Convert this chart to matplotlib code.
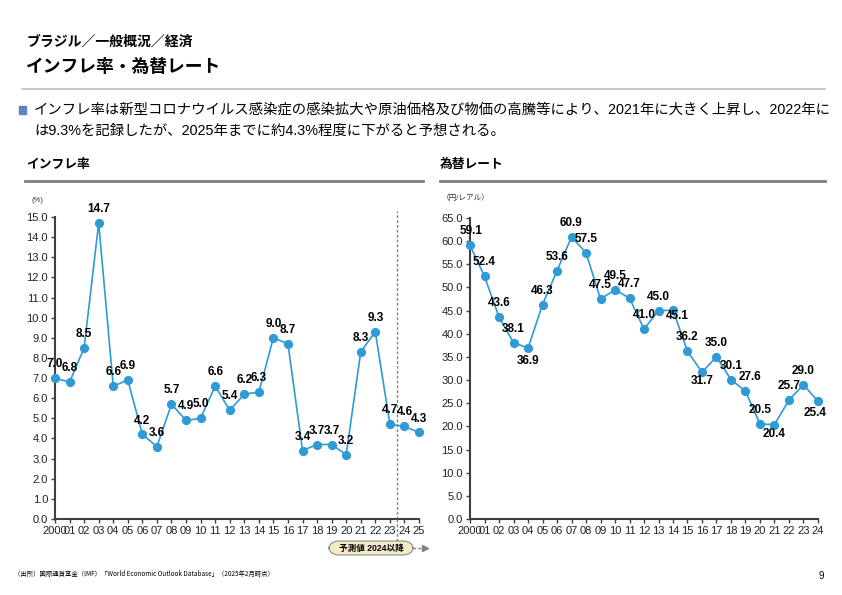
import matplotlib.pyplot as plt
from matplotlib.lines import Line2D
from matplotlib.patches import FancyBboxPatch, Rectangle

plt.rcParams['font.family'] = ['Liberation Sans', 'Noto Sans CJK JP']

# データ
inf_labels = ['2000', '01', '02', '03', '04', '05', '06', '07', '08', '09', '10', '11', '12',
              '13', '14', '15', '16', '17', '18', '19', '20', '21', '22', '23', '24', '25']
inflation = [7.0, 6.8, 8.5, 14.7, 6.6, 6.9, 4.2, 3.6, 5.7, 4.9, 5.0, 6.6, 5.4,
             6.2, 6.3, 9.0, 8.7, 3.4, 3.7, 3.7, 3.2, 8.3, 9.3, 4.7, 4.6, 4.3]

fx_labels = inf_labels[:25]
fx_rate = [59.1, 52.4, 43.6, 38.1, 36.9, 46.3, 53.6, 60.9, 57.5, 47.5, 49.5, 47.7, 41.0,
           45.0, 45.1, 36.2, 31.7, 35.0, 30.1, 27.6, 20.5, 20.4, 25.7, 29.0, 25.4]

# ラベル位置（ポイント単位のずれ、中心基準）
fx_offsets = {0: (1, 10), 4: (0, -9.5), 14: (3, -4), 16: (0, -6.5), 19: (3, 10),
              21: (0, -7), 24: (-2, -8.5)}

W, H = 842, 595
blue = '#2E9BD6'


def fx(x):
    return x / W


def fy(y):
    return 1 - y / H


fig = plt.figure(figsize=(8.42, 5.95), dpi=100)

# ヘッダー
fig.text(fx(27), fy(42), 'ブラジル／一般概況／経済', fontsize=10, weight='bold', va='center')
fig.text(fx(26), fy(67), 'インフレ率・為替レート', fontsize=12.8, weight='bold', va='center')
fig.add_artist(Line2D([fx(22), fx(825)], [fy(89), fy(89)], color='#BFBFBF', lw=1.2))

fig.add_artist(Rectangle((fx(19), fy(114)), 7 / W, 8 / H, color='#5B86C5'))
fig.text(fx(34), fy(110), 'インフレ率は新型コロナウイルス感染症の感染拡大や原油価格及び物価の高騰等により、2021年に大きく上昇し、2022年に',
         fontsize=10.35, va='center')
fig.text(fx(34), fy(131), 'は9.3%を記録したが、2025年までに約4.3%程度に下がると予想される。',
         fontsize=10.35, va='center')

# サブタイトル
fig.text(fx(26), fy(165), 'インフレ率', fontsize=9.2, weight='bold', va='center')
fig.add_artist(Line2D([fx(25), fx(423)], [fy(181), fy(181)], color='#7F7F7F', lw=2))
fig.text(fx(440), fy(165), '為替レート', fontsize=9.2, weight='bold', va='center')
fig.add_artist(Line2D([fx(440), fx(825)], [fy(181), fy(181)], color='#7F7F7F', lw=2))

fig.text(fx(32), fy(200), '(%)', fontsize=5.5, va='center', color='#333333')
fig.text(fx(442), fy(198), '（円/レアル）', fontsize=5.5, va='center', color='#333333')


def style_axis(ax, labels, ymax, step):
    for s in ['top', 'right']:
        ax.spines[s].set_visible(False)
    for s in ['left', 'bottom']:
        ax.spines[s].set_color('#404040')
        ax.spines[s].set_linewidth(1.5)
    ax.set_xlim(0, len(labels) - 1)
    ax.set_ylim(0, ymax)
    ax.set_xticks(range(len(labels)))
    ax.set_xticklabels(labels)
    yt = [i * step for i in range(int(ymax / step) + 1)]
    ax.set_yticks(yt)
    ax.set_yticklabels(['%.1f' % v for v in yt])
    ax.tick_params(direction='out', length=3, width=1, color='#404040', labelsize=8,
                   labelcolor='#222222', pad=2)


# インフレ率
ax1 = fig.add_axes([fx(55), fy(519), (419 - 55) / W, (519 - 217) / H])
x1 = list(range(len(inflation)))
ax1.plot(x1, inflation, color=blue, lw=1.2, marker='o', ms=5.6, clip_on=False, zorder=3)
style_axis(ax1, inf_labels, 15, 1)
for i, v in enumerate(inflation):
    ax1.annotate('%.1f' % v, (i, v), xytext=(0, 10), textcoords='offset points',
                 ha='center', va='center', fontsize=8.5, weight='bold')
ax1.axvline(23.5, ymin=0, ymax=1.02, color='#808080', ls=(0, (2, 1.5)), lw=1, clip_on=False)
fig.add_artist(Line2D([fx(397), fx(397)], [fy(519), fy(541)], color='#808080',
                      ls=(0, (2, 1.5)), lw=1))

# 予測値ラベル
box = FancyBboxPatch((fx(329), fy(555)), 84 / W, 14 / H,
                     boxstyle='round,pad=0,rounding_size=0.013', fc='#F5EBCB', ec='#8C8C8C', lw=0.8)
fig.add_artist(box)
fig.text(fx(371), fy(548), '予測値 2024以降', fontsize=6.2, ha='center', va='center', weight='bold')
fig.add_artist(Line2D([fx(413), fx(423)], [fy(548), fy(548)], color='#808080', ls=(0, (2, 1.5)), lw=1))
fig.add_artist(Line2D([fx(425)], [fy(548)], color='#808080', marker='>', ms=5, lw=0))

# 為替レート
ax2 = fig.add_axes([fx(470), fy(519), (818 - 470) / W, (519 - 218) / H])
x2 = list(range(len(fx_rate)))
ax2.plot(x2, fx_rate, color=blue, lw=1.2, marker='o', ms=5.6, clip_on=False, zorder=3)
style_axis(ax2, fx_labels, 65, 5)
for i, v in enumerate(fx_rate):
    dx, dy = fx_offsets.get(i, (0, 10))
    ax2.annotate('%.1f' % v, (i, v), xytext=(dx, dy), textcoords='offset points',
                 ha='center', va='center', fontsize=8.5, weight='bold')

# 出所
fig.text(fx(14), fy(574), '（出所）国際通貨基金（IMF）「World Economic Outlook Database」（2025年2月時点）',
         fontsize=4.6, va='center', family=['Liberation Sans Narrow', 'Noto Sans CJK JP'])
fig.text(fx(821), fy(576), '9', fontsize=7, va='center', ha='center')

fig.savefig('out.png', dpi=100)
